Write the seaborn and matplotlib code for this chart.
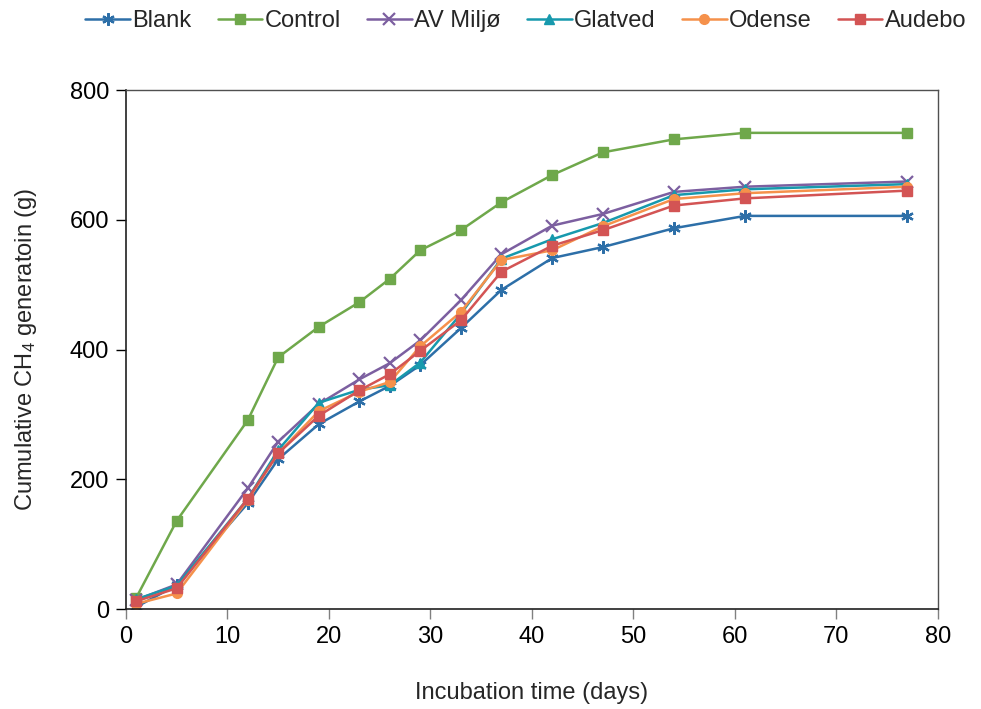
import matplotlib
matplotlib.use("Agg")
import matplotlib.pyplot as plt
import seaborn as sns
import pandas as pd

days = [1, 5, 12, 15, 19, 23, 26, 29, 33, 37, 42, 47, 54, 61, 77]
blank = [3, 37, 163, 231, 285, 320, 344, 376, 433, 492, 541, 558, 587, 606, 606]
control = [17, 136, 291, 388, 435, 473, 509, 553, 584, 627, 669, 704, 724, 734, 734]
av_miljo = [14, 38, 186, 258, 316, 354, 379, 414, 476, 547, 591, 609, 643, 651, 659]
glatved = [15, 36, 170, 245, 318, 338, 345, 380, 455, 540, 570, 595, 638, 647, 655]
odense = [8, 24, 168, 240, 305, 335, 350, 405, 458, 538, 553, 590, 632, 641, 651]
audebo = [12, 32, 170, 240, 298, 337, 362, 398, 445, 520, 560, 584, 622, 633, 645]

series_names = ["Blank", "Control", "AV Miljø", "Glatved", "Odense", "Audebo"]
series_values = [blank, control, av_miljo, glatved, odense, audebo]
colors = ["#2D6FA8", "#6FA84B", "#7C5FA0", "#1799AD", "#F5914B", "#D35454"]
markers = [(6, 2, 0), "s", "x", "^", "o", "s"]

rows = []
for name, vals in zip(series_names, series_values):
    for d, v in zip(days, vals):
        rows.append({"day": d, "value": v, "series": name})
df = pd.DataFrame(rows)

sns.set_style("white")
plt.rcParams["font.family"] = ["Liberation Sans", "DejaVu Sans"]
plt.rcParams["mathtext.default"] = "regular"

fig = plt.figure(figsize=(9.81, 7.09), dpi=100)
ax = fig.add_axes([0.1284, 0.141, 0.956 - 0.1284, 0.873 - 0.141])

for name, col, mk in zip(series_names, colors, markers):
    sub = df[df["series"] == name]
    ms = 7 if mk in ("s", "o", "^") else 9
    mew = 1.6 if mk in ("x",) or isinstance(mk, tuple) else 1
    sns.lineplot(data=sub, x="day", y="value", ax=ax, color=col, marker=mk,
                 markersize=ms, markeredgewidth=mew, markeredgecolor=col,
                 linewidth=1.8, label=name, sort=True)

ax.set_xlim(0, 80)
ax.set_ylim(0, 800)
ax.set_xticks(range(0, 81, 10))
ax.set_yticks(range(0, 801, 200))
ax.tick_params(axis="both", labelsize=17, direction="out", length=7, width=1,
               bottom=True, left=True, colors="black", pad=5)
ax.tick_params(axis="x", colors="#808080", labelcolor="black")
for side in ["left", "bottom"]:
    ax.spines[side].set_color("#202020")
    ax.spines[side].set_linewidth(1.2)
for side in ["top", "right"]:
    ax.spines[side].set_color("#505050")
    ax.spines[side].set_linewidth(1.0)

ax.set_xlabel("Incubation time (days)", fontsize=17, labelpad=25)
ax.set_ylabel("Cumulative CH$_4$ generatoin (g)", fontsize=17, labelpad=22)

leg = ax.legend(loc="center", bbox_to_anchor=(0.536, 0.970),
                bbox_transform=fig.transFigure, ncol=6,
                frameon=False, fontsize=17, handlelength=1.9, handletextpad=0.1,
                columnspacing=1.1)

fig.savefig("out.png", dpi=100)
